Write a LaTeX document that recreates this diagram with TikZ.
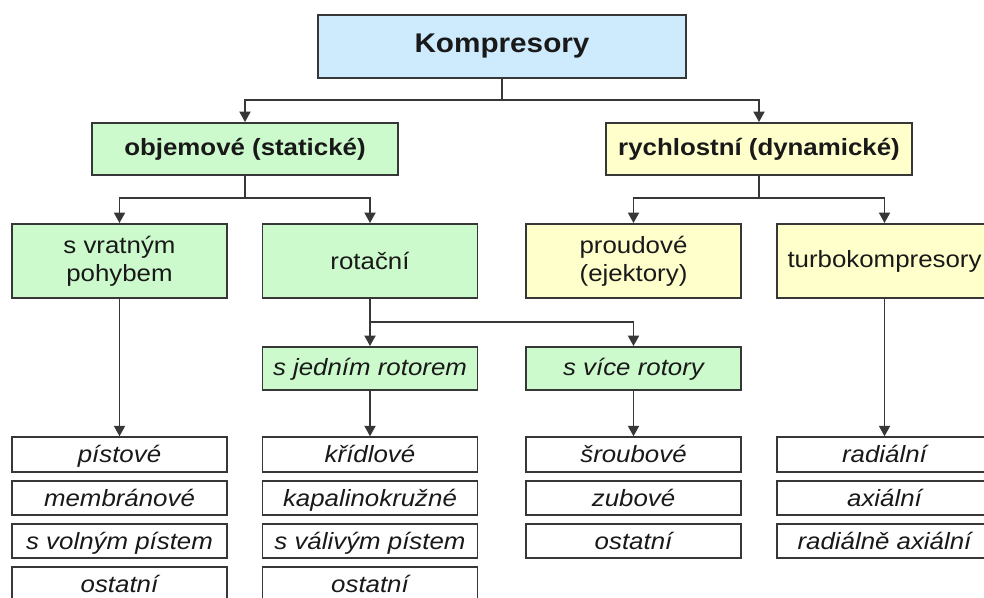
\documentclass[tikz,border=0pt]{standalone}
\usepackage{fontspec}
\setmainfont{Liberation Sans}[FakeStretch=1.1]
\usetikzlibrary{arrows.meta}
\definecolor{boxblue}{RGB}{206,234,253}
\definecolor{boxgreen}{RGB}{204,250,204}
\definecolor{boxyellow}{RGB}{255,255,204}
\definecolor{linegray}{RGB}{55,55,55}
\definecolor{txt}{RGB}{25,25,25}
\begin{document}
\begin{tikzpicture}[x=1pt,y=-1pt,
  box/.style={draw=linegray,line width=1.9pt,inner sep=0pt,align=center,text=txt,minimum width=215pt},
  topbox/.style={box,fill=boxblue,minimum width=368pt,minimum height=63pt,font=\fontsize{27}{32}\selectfont\bfseries},
  lvone/.style={box,minimum width=306pt,minimum height=52pt,font=\fontsize{23.5}{28}\selectfont\bfseries},
  lvtwo/.style={box,minimum height=74pt,font=\fontsize{23.5}{28}\selectfont},
  lvthree/.style={box,fill=boxgreen,minimum height=43pt,text height=17pt,text depth=4pt,font=\fontsize{23.5}{28}\selectfont\itshape},
  leaf/.style={box,fill=white,minimum height=34.5pt,text height=18pt,text depth=2pt,font=\fontsize{23.5}{28}\selectfont\itshape},
  conn/.style={draw=linegray,line width=1.9pt},
  arr/.style={conn,-{Triangle[width=11pt,length=10.5pt]}}]
\useasboundingbox (0,0) rectangle (984,597);
\fill[white] (0,0) rectangle (984,597);
% boxes
\node[topbox] (top) at (502,46.5) {Kompresory};
\node[lvone,fill=boxgreen] (obj) at (245,149) {objemové (statické)};
\node[lvone,fill=boxyellow] (ryc) at (759,149) {rychlostní (dynamické)};
\node[lvtwo,fill=boxgreen] (svr) at (119.5,261) {s vratným\\pohybem};
\node[lvtwo,fill=boxgreen] (rot) at (370,261) {rotační};
\node[lvtwo,fill=boxyellow] (pro) at (633.5,261) {proudové\\(ejektory)};
\node[lvtwo,fill=boxyellow] (tur) at (884.5,261) {turbokompresory};
\node[lvthree] (sj) at (370,368.5) {s jedním rotorem};
\node[lvthree] (sv) at (633.5,368.5) {s více rotory};
% leaves column 1
\node[leaf] (a1) at (119.5,454.5) {pístové};
\node[leaf] (a2) at (119.5,498) {membránové};
\node[leaf] (a3) at (119.5,541) {s volným pístem};
\node[leaf] (a4) at (119.5,584.5) {ostatní};
% column 2
\node[leaf] (b1) at (370,454.5) {křídlové};
\node[leaf] (b2) at (370,498) {kapalinokružné};
\node[leaf] (b3) at (370,541) {s válivým pístem};
\node[leaf] (b4) at (370,584.5) {ostatní};
% column 3
\node[leaf] (c1) at (633.5,454.5) {šroubové};
\node[leaf] (c2) at (633.5,498) {zubové};
\node[leaf] (c3) at (633.5,541) {ostatní};
% column 4
\node[leaf] (d1) at (884.5,454.5) {radiální};
\node[leaf] (d2) at (884.5,498) {axiální};
\node[leaf] (d3) at (884.5,541) {radiálně axiální};
% connectors
\coordinate (j0) at (502,100);
\coordinate (j1) at (245,198);
\coordinate (j2) at (759,198);
\coordinate (j3) at (370,322);
\draw[conn] (top.south) -- (j0);
\draw[arr] (j0) -| (obj.north);
\draw[arr] (j0) -| (ryc.north);
\draw[conn] (obj.south) -- (j1);
\draw[arr] (j1) -| (svr.north);
\draw[arr] (j1) -| (rot.north);
\draw[conn] (ryc.south) -- (j2);
\draw[arr] (j2) -| (pro.north);
\draw[arr] (j2) -| (tur.north);
\draw[arr] (rot.south) -- (sj.north);
\draw[arr] (j3) -| (sv.north);
\draw[arr] (svr.south) -- (a1.north);
\draw[arr] (sj.south) -- (b1.north);
\draw[arr] (sv.south) -- (c1.north);
\draw[arr] (tur.south) -- (d1.north);
\end{tikzpicture}
\end{document}
